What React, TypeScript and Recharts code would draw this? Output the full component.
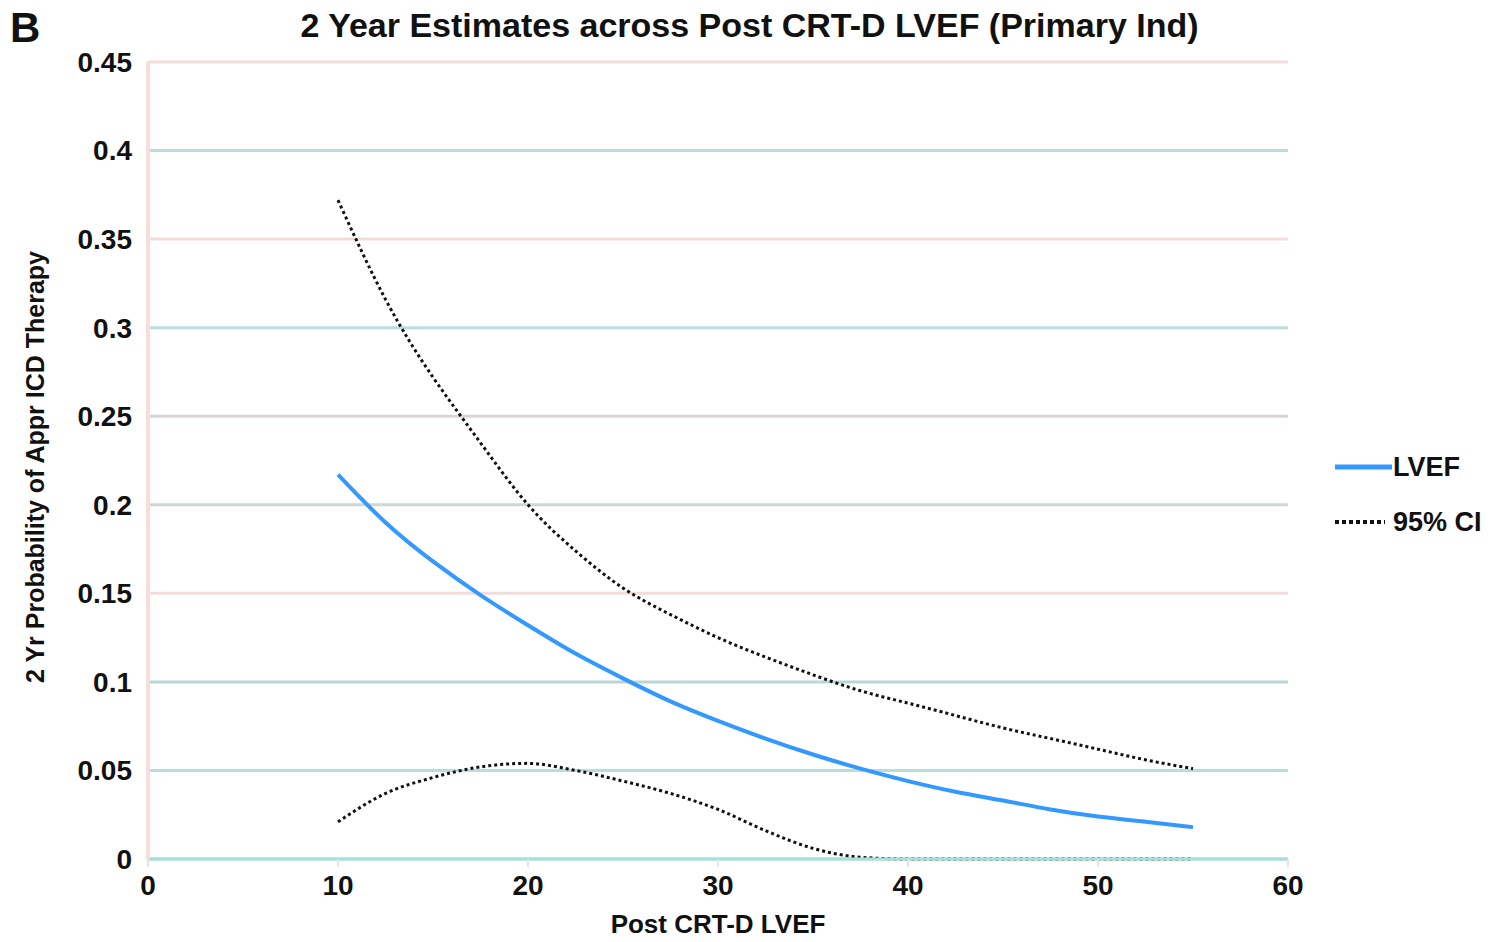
import React from 'react';
import { LineChart, Line, XAxis, YAxis, ReferenceLine } from 'recharts';

// post CRT-D LVEF (%)
const lvefX = [10, 12.5, 15, 17.5, 20, 22.5, 25, 27.5, 30, 32.5, 35, 37.5, 40, 42.5, 45, 47.5, 50, 52.5, 55];
// 2 yr probability of appropriate ICD therapy
const estimate = [0.217, 0.19, 0.168, 0.149, 0.132, 0.116, 0.102, 0.089, 0.078, 0.068, 0.059, 0.051, 0.044, 0.038, 0.033, 0.028, 0.024, 0.021, 0.018];
const upperCi = [0.372, 0.316, 0.272, 0.235, 0.2, 0.174, 0.153, 0.138, 0.125, 0.114, 0.104, 0.095, 0.088, 0.081, 0.074, 0.068, 0.062, 0.056, 0.051];
const lowerCi = [0.021, 0.037, 0.046, 0.052, 0.054, 0.05, 0.044, 0.037, 0.028, 0.016, 0.006, 0.001, 0, 0, 0, 0, 0, 0, 0];

const xTicks = [0, 10, 20, 30, 40, 50, 60];
const yTicks = [0, 0.05, 0.1, 0.15, 0.2, 0.25, 0.3, 0.35, 0.4, 0.45];

const gridColors = ['#aadede', '#b9dcdc', '#b8d8d8', '#f3dcdc', '#cfd6d6', '#dcd4d4', '#b9dcdc', '#f3dcdc', '#bcdcdc', '#f5dcdc'];

const data = lvefX.map((x, i) => ({ x, lvef: estimate[i], upper: upperCi[i], lower: lowerCi[i] }));

const font = '"Liberation Sans", Arial, sans-serif';

// legend drawn by hand so it doesn't eat into the plot area
const LegendBox = () => (
  <div style={{ position: 'absolute', left: 1333, top: 452, fontFamily: font, fontSize: 27, fontWeight: 'bold', color: '#111' }}>
    <div style={{ display: 'flex', alignItems: 'center', height: 30, marginBottom: 25 }}>
      <svg width={60} height={10}><line x1={2} y1={5} x2={59} y2={5} stroke="#3399ff" strokeWidth={5} /></svg>
      <span>LVEF</span>
    </div>
    <div style={{ display: 'flex', alignItems: 'center', height: 30 }}>
      <svg width={60} height={10}><line x1={2} y1={5} x2={52} y2={5} stroke="#111" strokeWidth={4} strokeDasharray="4 3" /></svg>
      <span>95% CI</span>
    </div>
  </div>
);

const App = () => {
  return (
    <div style={{ position: 'absolute', left: 0, top: 0, width: 1499, height: 942, background: '#fff', fontFamily: font }}>
      <div style={{ position: 'absolute', left: 10, top: 4, fontSize: 42, fontWeight: 'bold', color: '#111' }}>B</div>
      <div style={{ position: 'absolute', left: 0, width: 1499, top: 6, textAlign: 'center', fontSize: 34, fontWeight: 'bold', color: '#111' }}>
        2 Year Estimates across Post CRT-D LVEF (Primary Ind)
      </div>
      <div style={{ position: 'absolute', left: 35, top: 467, width: 0, height: 0 }}>
        <div style={{ position: 'absolute', transform: 'translate(-50%, -50%) rotate(-90deg)', whiteSpace: 'nowrap', fontSize: 25, fontWeight: 'bold', color: '#111' }}>
          2 Yr Probability of Appr ICD Therapy
        </div>
      </div>
      <LegendBox />
      <LineChart width={1499} height={942} data={data} margin={{ top: 62, right: 211, bottom: 0, left: 0 }}>
        {yTicks.map((t, i) => (
          <ReferenceLine key={t} y={t} stroke={gridColors[i]} strokeWidth={3} />
        ))}
        <XAxis
          dataKey="x"
          type="number"
          domain={[0, 60]}
          ticks={xTicks}
          height={83}
          axisLine={{ stroke: '#aadede', strokeWidth: 3 }}
          tickLine={{ stroke: '#e4e4e4', strokeWidth: 2 }}
          tickSize={8}
          tickMargin={8}
          tick={{ fontSize: 28, fontWeight: 'bold', fill: '#111', fontFamily: font }}
          label={{ value: 'Post CRT-D LVEF', position: 'insideBottom', offset: 9, fontSize: 26, fontWeight: 'bold', fill: '#111', fontFamily: font }}
        />
        <YAxis
          type="number"
          domain={[0, 0.45]}
          ticks={yTicks}
          width={148}
          axisLine={{ stroke: '#fadcdc', strokeWidth: 4 }}
          tickLine={false}
          tickSize={0}
          tickMargin={16}
          tick={{ fontSize: 28, fontWeight: 'bold', fill: '#111', fontFamily: font }}
        />
        <Line type="natural" dataKey="upper" stroke="#111" strokeWidth={3} strokeDasharray="3 3" dot={false} isAnimationActive={false} />
        <Line type="monotone" dataKey="lower" stroke="#111" strokeWidth={3} strokeDasharray="3 3" dot={false} isAnimationActive={false} />
        <Line type="natural" dataKey="lvef" stroke="#3399ff" strokeWidth={4} dot={false} isAnimationActive={false} />
      </LineChart>
    </div>
  );
};

export default App;
